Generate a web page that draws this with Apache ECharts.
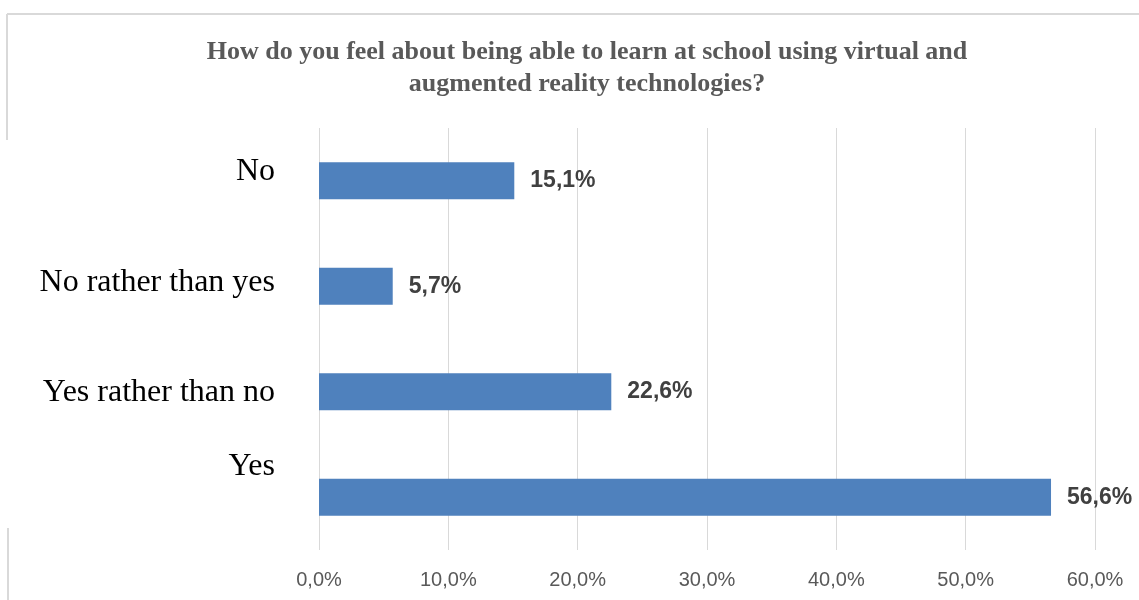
<!DOCTYPE html>
<html>
<head>
<meta charset="utf-8">
<script src="https://cdn.jsdelivr.net/npm/echarts@6/dist/echarts.min.js"></script>
<style>
  html, body { margin: 0; padding: 0; background: #fff; }
  #chart { width: 1139px; height: 600px; }
</style>
</head>
<body>
<div id="chart"></div>
<script>
    var titleText = 'How do you feel about being able to learn at school using virtual and\naugmented reality technologies?';
    // top to bottom as in the picture
    var categories = ['No', 'No rather than yes', 'Yes rather than no', 'Yes'];
    var values = [15.1, 5.7, 22.6, 56.6];
    var tickMax = 60;
    var tickStep = 10;

    // label nudges (px up), the labels do not sit centred on the bars
    var labelLift = [9, 4, -1, 31];

    var myChart = echarts.init(document.getElementById('chart'));

    function pct(v) {
        return v.toFixed(1).replace('.', ',') + '%';
    }

    var catRich = {};
    labelLift.forEach(function (d, i) {
        catRich['l' + i] = {
            fontFamily: 'Liberation Serif',
            fontSize: 32,
            color: '#000',
            padding: d >= 0 ? [0, 0, d * 2, 0] : [-d * 2, 0, 0, 0]
        };
    });

    var option = {
        backgroundColor: '#fff',
        animation: false,
        title: {
            text: titleText,
            left: 582,
            top: 31,
            textAlign: 'center',
            textStyle: {
                fontFamily: 'Liberation Serif',
                fontWeight: 'bold',
                fontSize: 26,
                color: '#595959',
                lineHeight: 32
            }
        },
        graphic: [
            { type: 'line', shape: { x1: 7, y1: 14, x2: 1139, y2: 14 }, style: { stroke: '#d9d9d9', lineWidth: 2 } },
            { type: 'line', shape: { x1: 7, y1: 14, x2: 7, y2: 140 }, style: { stroke: '#d9d9d9', lineWidth: 2 } },
            { type: 'line', shape: { x1: 8, y1: 528, x2: 8, y2: 600 }, style: { stroke: '#d9d9d9', lineWidth: 2 } }
        ],
        grid: {
            left: 319,
            right: 44,
            top: 128,
            bottom: 50
        },
        xAxis: {
            type: 'value',
            min: 0,
            max: tickMax,
            interval: tickStep,
            axisLine: { show: false },
            axisTick: { show: false },
            splitLine: { lineStyle: { color: '#d9d9d9', width: 1 } },
            axisLabel: {
                margin: 20,
                fontFamily: 'Liberation Sans',
                fontSize: 20,
                color: '#595959',
                formatter: function (v) { return pct(v); }
            }
        },
        yAxis: {
            type: 'category',
            inverse: true,
            data: categories,
            axisLine: { show: false },
            axisTick: { show: false },
            axisLabel: {
                margin: 44,
                formatter: function (v, i) { return '{l' + i + '|' + v + '}'; },
                rich: catRich
            }
        },
        series: [
            {
                type: 'bar',
                data: values,
                barWidth: 37,
                itemStyle: { color: '#4f81bd' },
                label: {
                    show: true,
                    position: 'right',
                    distance: 16,
                    fontFamily: 'Liberation Sans',
                    fontWeight: 'bold',
                    fontSize: 23,
                    color: '#404040',
                    formatter: function (p) { return pct(p.value); }
                }
            }
        ]
    };

    myChart.setOption(option);
</script>
</body>
</html>
